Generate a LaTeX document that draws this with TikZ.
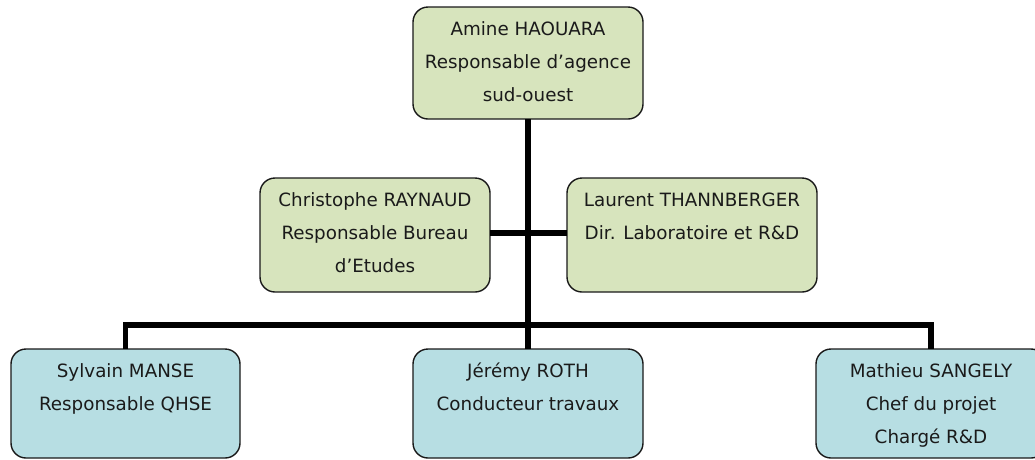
\documentclass[tikz,border=0pt]{standalone}
\usepackage{fontspec}
\setmainfont{DejaVu Sans}
\definecolor{gfill}{HTML}{D7E4BD}
\definecolor{bfill}{HTML}{B7DEE3}
\definecolor{txt}{HTML}{1A1A1A}
\newcommand{\bxt}[3]{\begin{minipage}[c][#2pt][t]{#1pt}\centering\fontsize{18.3}{33}\selectfont\color{txt}\rule{0pt}{28pt}#3\end{minipage}}
\tikzset{
  orgbox/.style={draw=black!90, line width=1.4pt, rounded corners=15pt, inner sep=0pt, outer sep=0pt},
  gbox/.style={orgbox, fill=gfill},
  bbox/.style={orgbox, fill=bfill},
  link/.style={line width=5.5pt, line join=miter, draw=black}
}
\begin{document}
\begin{tikzpicture}[x=1pt,y=-1pt]
\useasboundingbox (0,0) rectangle (1035,459);
% connectors
\coordinate (bus) at (528.5,325);
\node[gbox] (top) at (528,63) {\bxt{230}{112}{Amine HAOUARA\\Responsable d’agence\\sud-ouest}};
\node[gbox] (midL) at (375,235) {\bxt{230}{114}{Christophe RAYNAUD\\Responsable Bureau\\d’Etudes}};
\node[gbox] (midR) at (692,235) {\bxt{250}{114}{Laurent THANNBERGER\\Dir. Laboratoire et R\&D}};
\node[bbox] (botL) at (125.5,403.5) {\bxt{229}{109}{Sylvain MANSE\\Responsable QHSE}};
\node[bbox] (botM) at (528,403.5) {\bxt{230}{109}{Jérémy ROTH\\Conducteur travaux}};
\node[bbox] (botR) at (931,403.5) {\bxt{230}{109}{Mathieu SANGELY\\Chef du projet\\Chargé R\&D}};
\draw[link] (top.south) -- (botM.north);
\draw[link] ([yshift=2pt]midL.east) -- ([yshift=2pt]midR.west);
\draw[link] (botL.north) |- (bus) -| (botR.north);
\end{tikzpicture}
\end{document}
